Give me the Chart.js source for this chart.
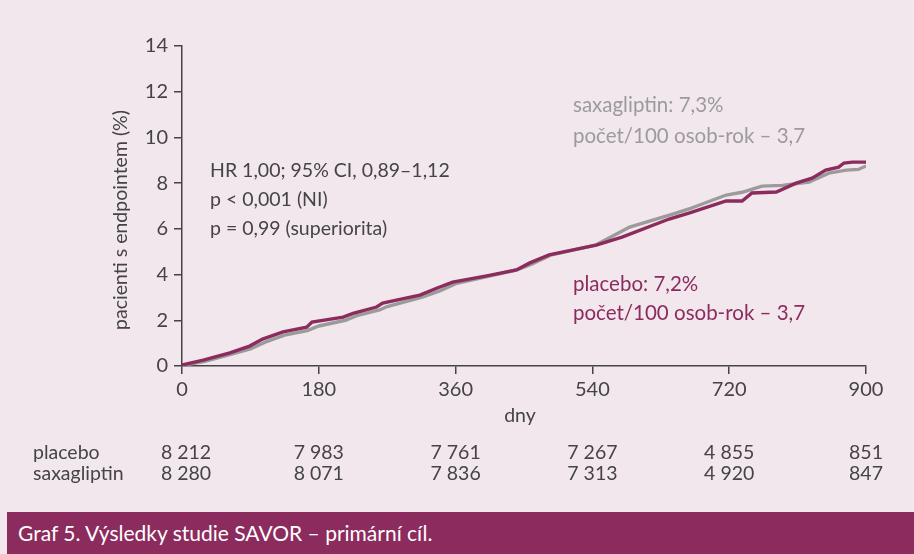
<!DOCTYPE html>
<html lang="cs">
<head>
<meta charset="UTF-8">
<title>SAVOR</title>
<script src="https://cdn.jsdelivr.net/npm/chart.js"></script>
<style>
  html, body { margin: 0; padding: 0; background: #f3e7ee; }
  #wrap { position: relative; width: 914px; height: 512px; }
  #caption {
    margin-left: 7px; width: 907px; height: 42px; background: #8c2b5d; color: #fff;
    font-family: Lato, "Open Sans", sans-serif; font-size: 21px; font-weight: 400;
    line-height: 42px; padding-left: 11px; box-sizing: border-box;
  }
</style>
</head>
<body>
<div id="wrap"><canvas id="km" width="914" height="512"></canvas></div>
<div id="caption">Graf 5. Výsledky studie SAVOR – primární cíl.</div>
<script>
// data
const placeboDays = [0, 28, 63, 89, 106, 133, 164, 171, 212, 225, 256, 264, 313, 335, 356, 401, 440, 457, 483, 545, 579, 641, 667, 716, 737, 750, 782, 808, 829, 847, 864, 871, 882, 900];
const placeboVals = [0.04, 0.26, 0.57, 0.87, 1.18, 1.49, 1.7, 1.92, 2.14, 2.3, 2.58, 2.75, 3.1, 3.4, 3.67, 3.94, 4.2, 4.5, 4.86, 5.29, 5.64, 6.43, 6.69, 7.22, 7.22, 7.57, 7.61, 8.0, 8.22, 8.57, 8.7, 8.88, 8.92, 8.92];
const saxaDays = [0, 30, 63, 90, 110, 135, 165, 180, 215, 230, 260, 270, 315, 340, 360, 400, 440, 460, 485, 545, 589, 650, 667, 716, 737, 763, 790, 825, 851, 874, 890, 900];
const saxaVals = [0.02, 0.2, 0.5, 0.75, 1.05, 1.35, 1.55, 1.75, 2.0, 2.2, 2.45, 2.6, 3.0, 3.3, 3.6, 3.9, 4.2, 4.45, 4.85, 5.3, 6.08, 6.69, 6.87, 7.48, 7.6, 7.87, 7.9, 8.05, 8.44, 8.57, 8.6, 8.75];

const riskDays = [0, 180, 360, 540, 720, 900];
const riskPlacebo = ['8 212', '7 983', '7 761', '7 267', '4 855', '851'];
const riskSaxa = ['8 280', '8 071', '7 836', '7 313', '4 920', '847'];

const hrText = ['HR 1,00; 95% CI, 0,89–1,12', 'p < 0,001 (NI)', 'p = 0,99 (superiorita)'];
const saxaText = ['saxagliptin: 7,3%', 'počet/100 osob-rok – 3,7'];
const placeboText = ['placebo: 7,2%', 'počet/100 osob-rok – 3,7'];

const FONT = 'Lato, "Open Sans", sans-serif';
const MAROON = '#8c2b5d';
const GREY = '#9b9b9b';
const INK = '#444444';

const toXY = (d, v) => d.map((x, i) => ({ x: x, y: v[i] }));

const extras = {
  id: 'extras',
  afterDraw(chart) {
    const ctx = chart.ctx;
    const xs = chart.scales.x;
    ctx.save();
    ctx.font = '19.5px ' + FONT;
    ctx.textBaseline = 'middle';
    ctx.fillStyle = INK;

    // y title
    ctx.save();
    ctx.translate(121, 220);
    ctx.rotate(-Math.PI / 2);
    ctx.textAlign = 'center';
    ctx.fillText('pacienti s endpointem (%)', 0, 0);
    ctx.restore();

    // x title
    ctx.textAlign = 'center';
    ctx.fillText('dny', xs.getPixelForValue(450) - 4, 416);

    // annotations
    ctx.textAlign = 'left';
    hrText.forEach((t, i) => ctx.fillText(t, 210, 171 + i * 29));
    ctx.font = '20.5px ' + FONT;
    ctx.fillStyle = GREY;
    saxaText.forEach((t, i) => ctx.fillText(t, 573, 105 + i * 31));
    ctx.fillStyle = MAROON;
    placeboText.forEach((t, i) => ctx.fillText(t, 573, 284 + i * 29));

    // numbers at risk
    ctx.font = '19.5px ' + FONT;
    ctx.fillStyle = INK;
    ctx.fillText('placebo', 33, 453);
    ctx.fillText('saxagliptin', 33, 474);
    ctx.textAlign = 'center';
    riskDays.forEach((d, i) => {
      const px = xs.getPixelForValue(d) + (i === 0 ? 4 : 0);
      ctx.fillText(riskPlacebo[i], px, 453);
      ctx.fillText(riskSaxa[i], px, 474);
    });
    ctx.restore();
  }
};

const tickFont = { family: FONT, size: 20 };

new Chart(document.getElementById('km'), {
  type: 'line',
  data: {
    datasets: [
      { label: 'placebo', data: toXY(placeboDays, placeboVals), borderColor: MAROON, borderWidth: 3.4, pointRadius: 0, tension: 0 },
      { label: 'saxagliptin', data: toXY(saxaDays, saxaVals), borderColor: GREY, borderWidth: 3.4, pointRadius: 0, tension: 0 }
    ]
  },
  options: {
    responsive: false,
    animation: false,
    layout: { padding: { left: 0, right: 48, top: 46, bottom: 0 } },
    plugins: { legend: { display: false }, tooltip: { enabled: false } },
    scales: {
      x: {
        type: 'linear', min: 0, max: 900,
        afterBuildTicks: s => { s.ticks = riskDays.map(v => ({ value: v })); },
        afterFit: s => { s.height = 146; },
        grid: { drawOnChartArea: false, tickLength: 8, color: INK, lineWidth: 1.5 },
        border: { color: INK, width: 1.5 },
        ticks: { color: INK, font: tickFont, padding: 4, maxRotation: 0 }
      },
      y: {
        min: 0, max: 14,
        ticks: { stepSize: 2, color: INK, font: tickFont, padding: 6 },
        afterFit: s => { s.width = 182; },
        grid: { drawOnChartArea: false, tickLength: 8, color: INK, lineWidth: 1.5 },
        border: { color: INK, width: 1.5 }
      }
    }
  },
  plugins: [extras]
});
</script>
</body>
</html>
